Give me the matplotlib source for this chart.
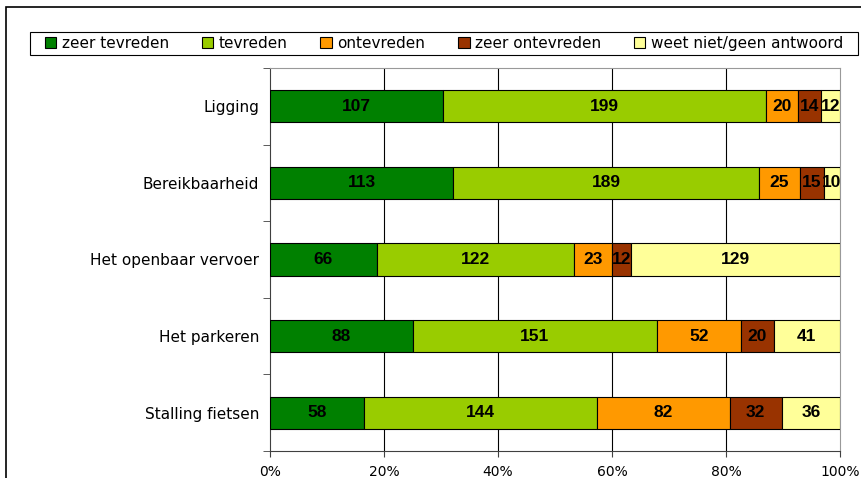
import numpy as np
import matplotlib.pyplot as plt
from matplotlib.patches import Rectangle

plt.rcParams['font.family'] = ['DejaVu Sans']

# categorieën (van boven naar beneden)
categories = ["Ligging", "Bereikbaarheid", "Het openbaar vervoer", "Het parkeren", "Stalling fietsen"]
series_names = ["zeer tevreden", "tevreden", "ontevreden", "zeer ontevreden", "weet niet/geen antwoord"]
colors = ["#008000", "#99CC00", "#FF9900", "#993300", "#FFFF99"]

zeer_tevreden = [107, 113, 66, 88, 58]
tevreden = [199, 189, 122, 151, 144]
ontevreden = [20, 25, 23, 52, 82]
zeer_ontevreden = [14, 15, 12, 20, 32]
weet_niet = [12, 10, 129, 41, 36]

xticks = [0, 20, 40, 60, 80, 100]
xticklabels = ["0%", "20%", "40%", "60%", "80%", "100%"]

data = np.array([zeer_tevreden, tevreden, ontevreden, zeer_ontevreden, weet_niet], dtype=float)
totals = data.sum(axis=0)
pct = data / totals * 100

fig = plt.figure(figsize=(8.61, 4.78), dpi=100)
ax = fig.add_axes([270 / 861, 27 / 478, 570 / 861, 383 / 478])

y = np.arange(len(categories))
left = np.zeros(len(categories))
for i, name in enumerate(series_names):
    ax.barh(y, pct[i], left=left, height=0.42, color=colors[i], edgecolor="black",
            linewidth=0.8, label=name, zorder=3)
    for j in range(len(categories)):
        ax.text(left[j] + pct[i][j] / 2, y[j], f"{int(data[i][j])}", ha="center", va="center",
                fontsize=12.5, fontweight="bold", zorder=4,
                family=["Liberation Sans Narrow", "Liberation Sans"])
    left += pct[i]

ax.set_xlim(0, 100)
ax.set_ylim(len(categories) - 0.5, -0.5)
ax.set_yticks(y)
ax.set_yticklabels(categories, fontsize=11)
ax.set_yticks(np.arange(-0.5, len(categories), 1), minor=True)
ax.tick_params(axis="y", which="major", length=0, pad=8)
ax.tick_params(axis="y", which="minor", length=5, direction="out", color="#404040")
ax.set_xticks(xticks)
ax.set_xticklabels(xticklabels, fontsize=10)
ax.tick_params(axis="x", length=4, direction="out", color="#404040", pad=6)

for x in xticks[1:-1]:
    ax.axvline(x, color="black", linewidth=0.8, zorder=1)
ax.spines["left"].set_color("#404040")
ax.spines["bottom"].set_color("#404040")
ax.spines["top"].set_color("#999999")
ax.spines["right"].set_color("#999999")

# legenda: kader apart getekend
leg = fig.legend(loc="center left", bbox_to_anchor=(45 / 861, (478 - 55) / 478, 798 / 861, 23 / 478),
                 mode="expand", ncol=5, fontsize=11, frameon=False,
                 handlelength=0.75, handleheight=0.75, handletextpad=0.35,
                 borderaxespad=0, borderpad=0)
for h in leg.legend_handles:
    h.set_linewidth(0.8)
fig.patches.append(Rectangle((30 / 861, (478 - 55) / 478), 828 / 861, 23 / 478,
                             transform=fig.transFigure, fill=False, edgecolor="black", linewidth=0.8))

# buitenkader
fig.patches.append(Rectangle((6 / 861, -0.1), 1.0, 1.1 - 7 / 478, transform=fig.transFigure,
                             fill=False, edgecolor="black", linewidth=1.2))

fig.savefig("out.png", dpi=100)
